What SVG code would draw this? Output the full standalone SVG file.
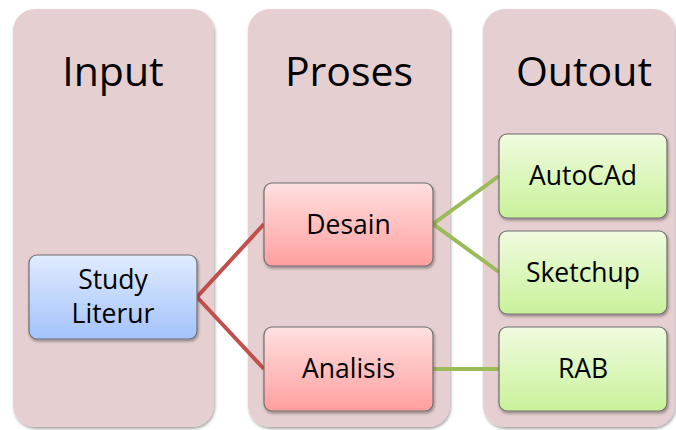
<svg xmlns="http://www.w3.org/2000/svg" width="676" height="430" viewBox="0 0 676 430">
<defs>
<linearGradient id="gBlue" x1="0" y1="0" x2="0" y2="1"><stop offset="0" stop-color="#e0ebff"/><stop offset="1" stop-color="#a3c3fb"/></linearGradient>
<linearGradient id="gRed" x1="0" y1="0" x2="0" y2="1"><stop offset="0" stop-color="#ffe0e0"/><stop offset="1" stop-color="#ff9f9f"/></linearGradient>
<linearGradient id="gGreen" x1="0" y1="0" x2="0" y2="1"><stop offset="0" stop-color="#f0fbe0"/><stop offset="1" stop-color="#c9f29a"/></linearGradient>
<filter id="sh" x="-10%" y="-10%" width="125%" height="125%"><feGaussianBlur in="SourceAlpha" stdDeviation="1.5"/><feOffset dx="1" dy="2"/><feComponentTransfer><feFuncA type="linear" slope="0.35"/></feComponentTransfer><feMerge><feMergeNode/><feMergeNode in="SourceGraphic"/></feMerge></filter>
</defs>
<style>
.col{fill:#e6cfd0;filter:url(#sh)}
.hd{font-family:"Open Sans",sans-serif;font-size:41px;fill:#000;text-anchor:middle}
.bx{stroke:#6e6e6e;stroke-width:1.2;filter:url(#sh)}
.t{font-family:"Open Sans",sans-serif;font-size:26.5px;fill:#000;text-anchor:middle}
.cr{stroke:#c0504d;stroke-width:4;fill:none}
.cg{stroke:#9bbb59;stroke-width:4;fill:none}
</style>
<g id="col-input"><rect class="col" x="13" y="9" width="201" height="418" rx="22"/><text class="hd" x="113" y="86">Input</text></g>
<g id="col-proses"><rect class="col" x="248" y="9" width="202" height="418" rx="22"/><text class="hd" x="349" y="86">Proses</text></g>
<g id="col-output"><rect class="col" x="483" y="9" width="192" height="418" rx="22"/><text class="hd" x="584" y="86">Outout</text></g>
<g id="connectors">
<polyline class="cr" points="264,224 197,297 264,369"/>
<polyline class="cg" points="499,176 433,224 499,272"/>
<line class="cg" x1="433" y1="369" x2="499" y2="369"/>
</g>
<g id="study"><rect class="bx" x="29" y="255" width="168" height="84" rx="8" fill="url(#gBlue)"/><text class="t" x="113" y="289">Study</text><text class="t" x="113" y="323">Literur</text></g>
<g id="desain"><rect class="bx" x="264" y="183" width="169" height="83" rx="8" fill="url(#gRed)"/><text class="t" x="348.5" y="234">Desain</text></g>
<g id="analisis"><rect class="bx" x="264" y="327" width="169" height="84" rx="8" fill="url(#gRed)"/><text class="t" x="348.5" y="378">Analisis</text></g>
<g id="autocad"><rect class="bx" x="499" y="134" width="168" height="84" rx="8" fill="url(#gGreen)"/><text class="t" x="583" y="185">AutoCAd</text></g>
<g id="sketchup"><rect class="bx" x="499" y="231" width="168" height="83" rx="8" fill="url(#gGreen)"/><text class="t" x="583" y="282">Sketchup</text></g>
<g id="rab"><rect class="bx" x="499" y="327" width="168" height="84" rx="8" fill="url(#gGreen)"/><text class="t" x="583" y="378">RAB</text></g>
</svg>
